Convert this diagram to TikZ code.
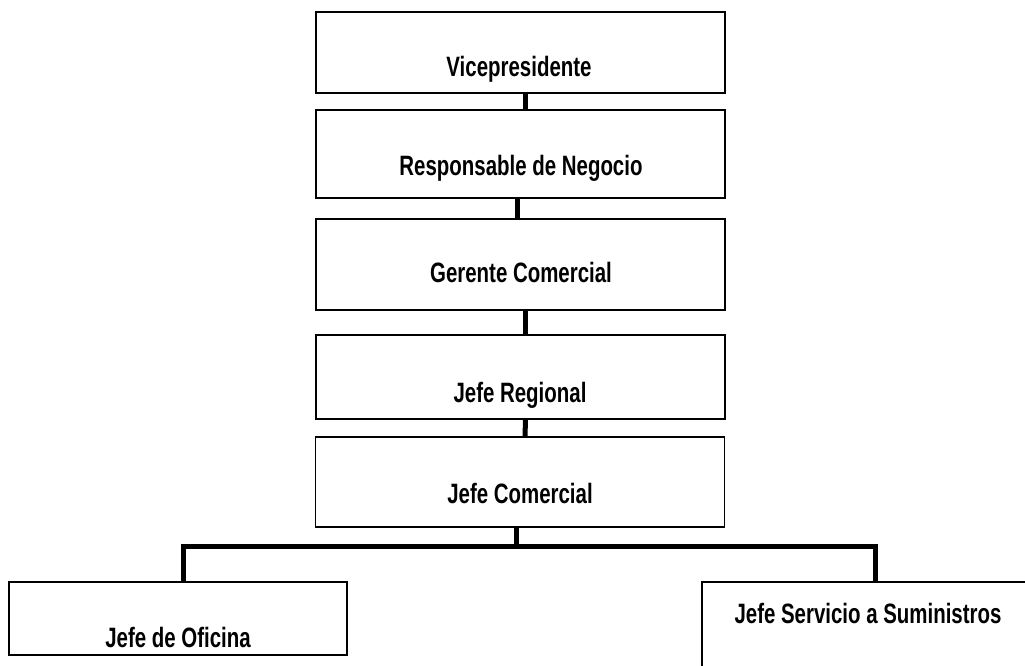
\documentclass[tikz,border=0pt]{standalone}
\usepackage{fontspec}
\setmainfont{Liberation Sans}[FakeStretch=0.73]
\usetikzlibrary{positioning,calc}

\begin{document}
\begin{tikzpicture}[
    x=1pt, y=1pt,
    orgbox/.style={
      draw, line width=1.3pt, minimum width=409pt,
      inner sep=0pt
    },
    lbl/.style={font=\fontsize{28}{30}\selectfont\bfseries, anchor=base,
                inner sep=0pt},
    link/.style={line width=5pt},
  ]
  \clip (0,0) rectangle (1025,665);

  % Chain of boxes
  \node[orgbox, minimum height=81pt] (vp) at (520.5,612.5) {};
  \node[orgbox, minimum height=88pt] (rn) at (520.5,511) {};
  \node[orgbox, minimum height=91pt] (gc) at (520.5,400.5) {};
  \node[orgbox, minimum height=84pt] (jr) at (520.5,288) {};
  \node[orgbox, minimum height=90pt] (jc) at (520,183) {};

  % Bottom row
  \node[orgbox, minimum width=338pt, minimum height=73pt] (jo)
    at (178,46.5) {};
  \node[orgbox, minimum width=346pt, minimum height=100pt] (jss)
    at (875,33) {};

  % Labels
  \node[lbl] (vptext) at ($(vp.center)+(-1.5,-24.5)$) {Vicepresidente};
  \node[lbl] (rntext) at ($(rn.center)+(0.5,-22)$)
    {Responsable de Negocio};
  \node[lbl] (gctext) at ($(gc.center)+(0.5,-18.5)$) {Gerente Comercial};
  \node[lbl] (jrtext) at ($(jr.center)+(-0.5,-25)$) {Jefe Regional};
  \node[lbl] (jctext) at ($(jc.center)+(0,-21)$) {Jefe Comercial};
  \node[lbl] (jotext) at ($(jo.center)+(0,-28.5)$) {Jefe de Oficina};
  \node[lbl] (jsstext) at ($(jss.center)+(-7,9)$)
    {Jefe Servicio a Suministros};

  % Links
  \draw[link] ([xshift=4.5pt]vp.south) -- ([xshift=4.5pt]rn.north);
  \draw[link] ([xshift=-3.5pt]rn.south) -- ([xshift=-3.5pt]gc.north);
  \draw[link] ([xshift=4.5pt]gc.south) -- ([xshift=4.5pt]jr.north);
  \draw[link] ([xshift=5pt]jr.south) -- ([xshift=5pt]jc.north);

  \coordinate (bus) at (516,119);
  \draw[link] ([xshift=-4pt]jc.south) -- ([yshift=-2.5pt]bus);
  \draw[link] ([xshift=5pt]jo.north) |- (bus) -| (jss.north);

\end{tikzpicture}
\end{document}
